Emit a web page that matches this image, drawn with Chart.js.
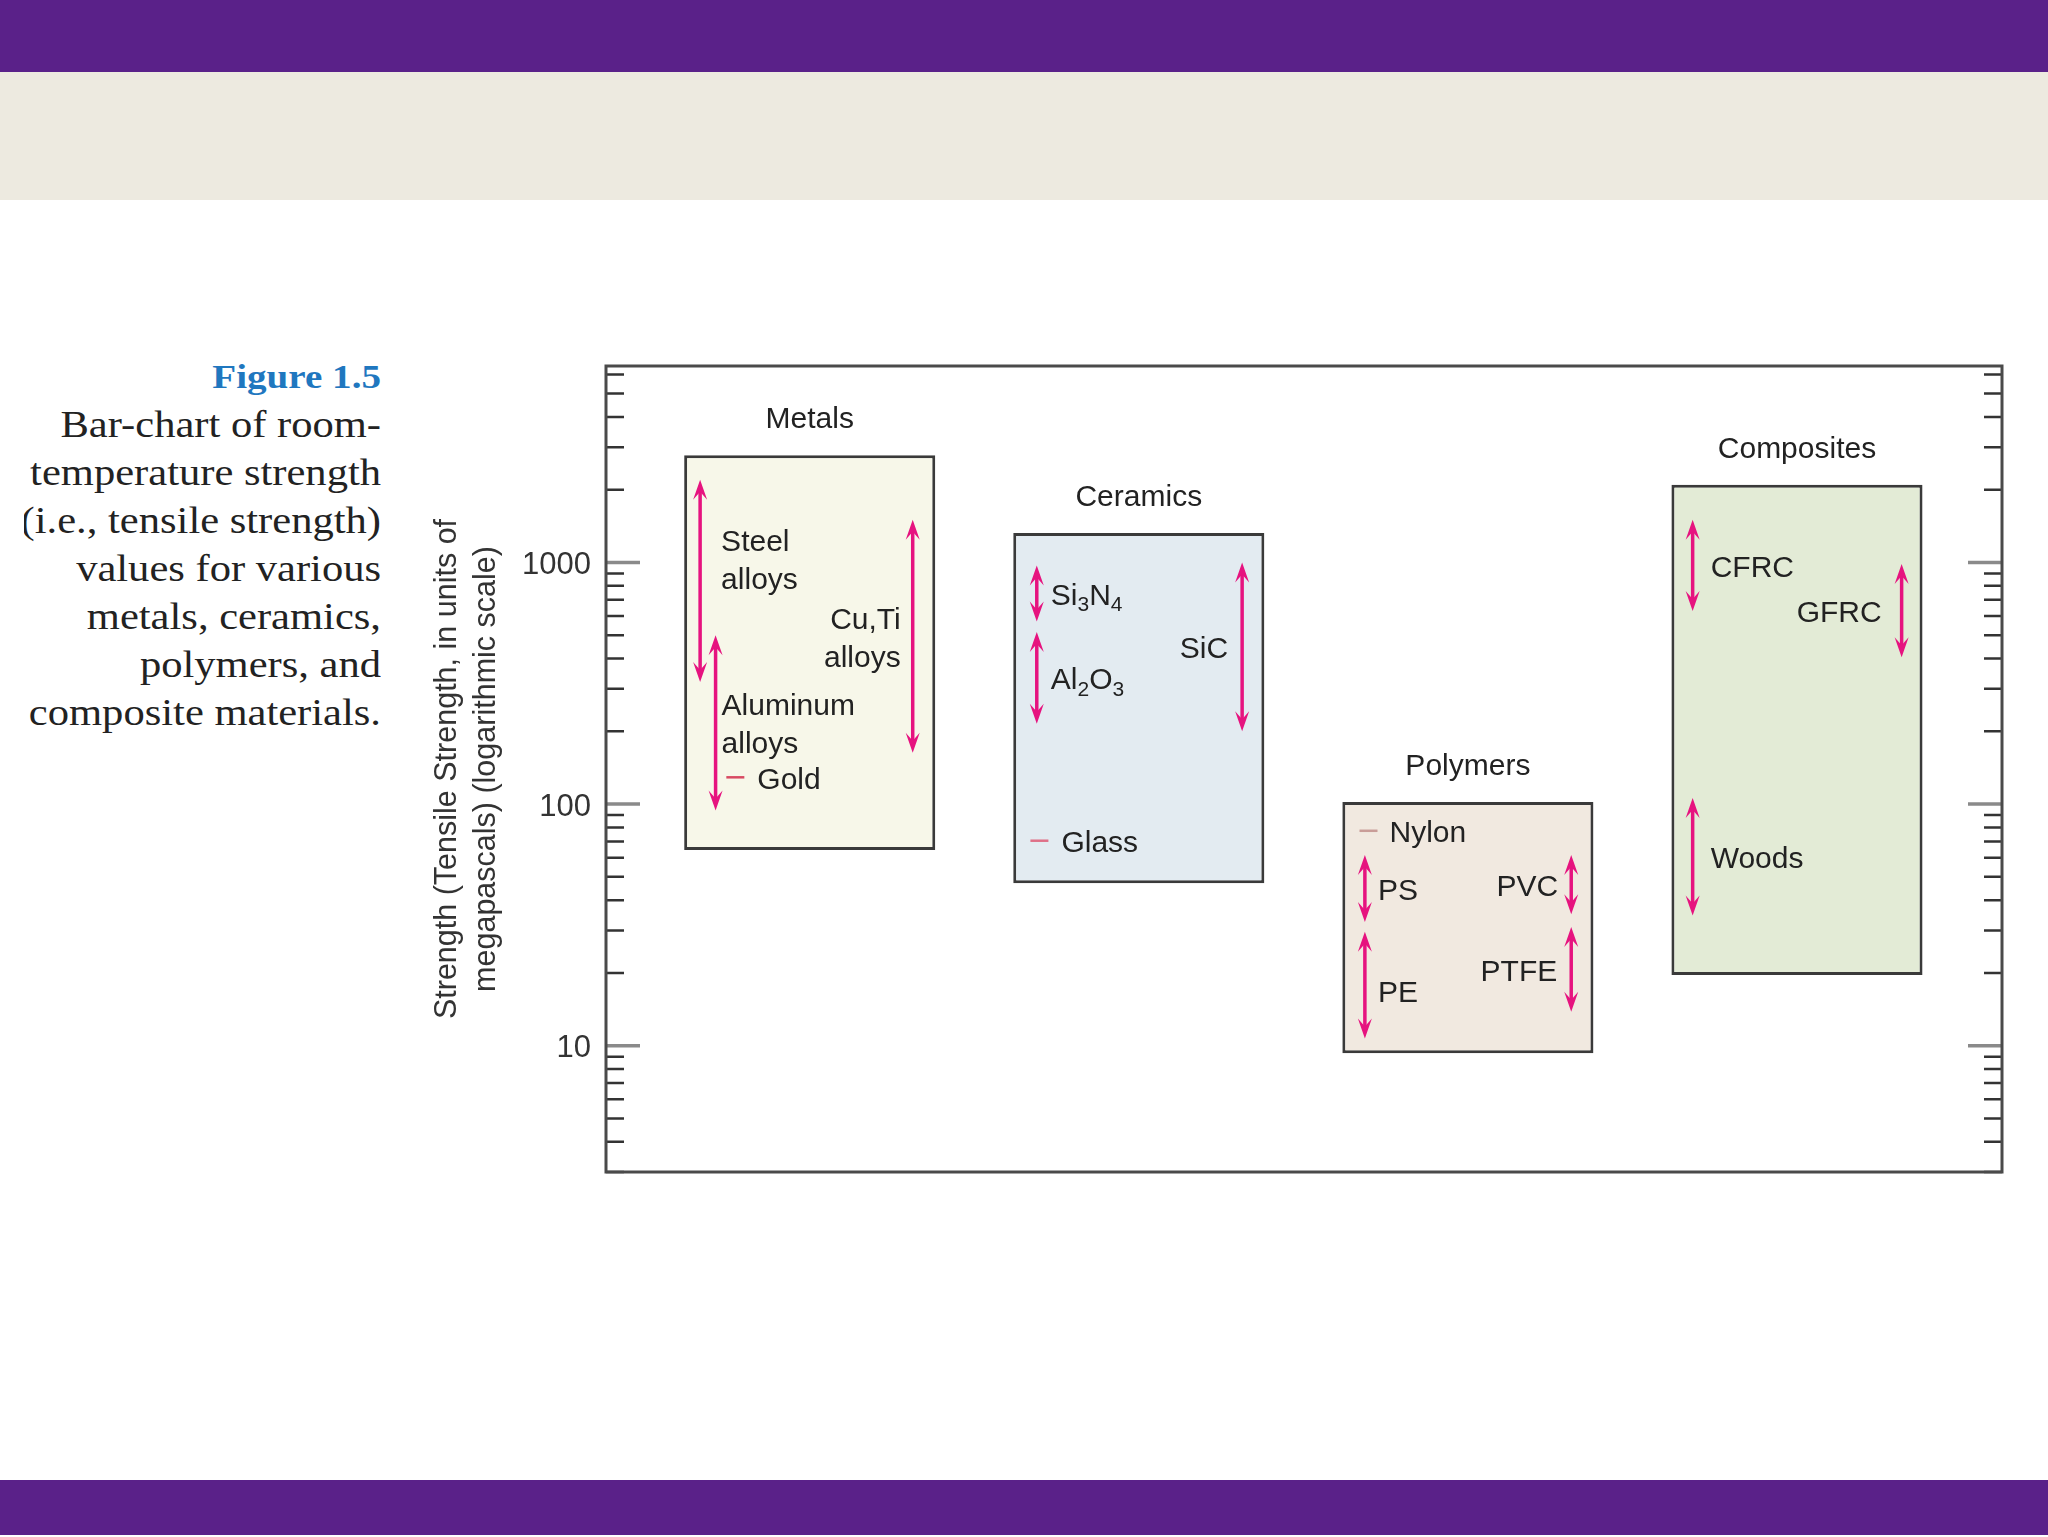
<!DOCTYPE html>
<html>
<head>
<meta charset="utf-8">
<script src="https://cdn.jsdelivr.net/npm/chart.js@4.4.1/dist/chart.umd.min.js"></script>
<style>
  html, body { margin: 0; padding: 0; background: #fff; }
  body { width: 2048px; height: 1537px; position: relative; overflow: hidden; }
  .band-top { position: absolute; left: 0; top: 0; width: 2048px; height: 72px; background: #5a2189; }
  .band-beige { position: absolute; left: 0; top: 72px; width: 2048px; height: 128px; background: #edeae0; }
  .band-bottom { position: absolute; left: 0; top: 1480px; width: 2048px; height: 55px; background: #5a2189; }
  .caption-wrap { position: absolute; left: 24px; top: 352px; width: 357px; height: 400px; overflow: hidden; }
  .caption { width: 357px; text-align: right; transform: scaleX(1.15); transform-origin: right top;
             font-family: "Liberation Serif", "Times New Roman", serif; font-size: 37px; line-height: 48px; color: #222; }
  .caption .fig { color: #1f77bf; font-weight: bold; font-size: 34px; }
  #chart { position: absolute; left: 400px; top: 300px; }
</style>
</head>
<body>
<div class="band-top"></div>
<div class="band-beige"></div>
<div class="band-bottom"></div>
<div class="caption-wrap">
  <div class="caption">
    <span class="fig">Figure 1.5</span><br>
    Bar-chart of room-<br>
    temperature strength<br>
    (i.e., tensile strength)<br>
    values for various<br>
    metals, ceramics,<br>
    polymers, and<br>
    composite materials.
  </div>
</div>
<canvas id="chart" width="1648" height="940"></canvas>
<script>
// material classes (the boxes)
const groups = ["Metals", "Ceramics", "Polymers", "Composites"];
const groupLow = [64.5, 47, 9.3, 19.6];
const groupHigh = [2780, 1325, 102, 2095];

// individual materials (the arrows / marks), strength in MPa
const materials = ["Steel\nalloys", "Aluminum\nalloys", "Cu,Ti\nalloys", "Gold",
  "Si_3N_4", "Al_2O_3", "SiC", "Glass",
  "Nylon", "PS", "PE", "PVC", "PTFE",
  "CFRC", "GFRC", "Woods"];
const materialGroup = [0, 0, 0, 0, 1, 1, 1, 1, 2, 2, 2, 2, 2, 3, 3, 3];
const strengthLow = [320, 94, 163, 129, 570, 215, 200, 70.5, 77.5, 32.5, 10.7, 35, 13.8, 630, 405, 34.6];
const strengthHigh = [2200, 500, 1500, 129, 970, 515, 1000, 70.5, 77.5, 61.5, 29.6, 61.5, 31, 1500, 985, 106];

// axis
const yMin = 3, yMax = 6500;
const majorTicks = [10, 100, 1000];

// where each mark sits inside its box and how its label is placed
const markOffset = [-0.333, -0.286, 0.313, -0.226, -0.31, -0.31, 0.314, -0.302,
  -0.302, -0.313, -0.313, 0.314, 0.314, -0.317, 0.318, -0.317];
const labelSide = ["right", "right", "left", "right", "right", "right", "left", "right",
  "right", "right", "right", "left", "left", "right", "left", "right"];
const labelGap = [21, 6, 12, 13, 14, 14, 14, 13, 12, 13, 13, 13, 14, 18, 20, 18];
const labelShift = [-22, 0, 0, 0, 0, 0, 0, 0, 0, 0, 6, 0, 0, 0, 0, 0];

const boxColors = ["#f7f7e9", "#e3ebf1", "#f1e9e0", "#e3ebd6"];
const dashColors = { Gold: "#d84a62", Glass: "#df7088", Nylon: "#c99d98" };
const arrowColor = "#e6137f";
const textColor = "#222";
const textFont = '30px "Liberation Sans", Arial, sans-serif';
const subFont = '21px "Liberation Sans", Arial, sans-serif';
const textDrop = 3; // middle baseline sits a bit high for this font

// text with simple subscripts: "Si_3N_4"
function richParts(text) {
  const parts = [];
  for (let i = 0; i < text.length; i++) {
    if (text[i] === "_") { parts.push({ t: text[i + 1], sub: true }); i++; }
    else if (parts.length && !parts[parts.length - 1].sub) parts[parts.length - 1].t += text[i];
    else parts.push({ t: text[i], sub: false });
  }
  return parts;
}
function drawRich(ctx, text, x, y, align) {
  const parts = richParts(text);
  let w = 0;
  parts.forEach(p => { ctx.font = p.sub ? subFont : textFont; p.w = ctx.measureText(p.t).width; w += p.w; });
  let cx = align === "right" ? x - w : x;
  ctx.textAlign = "left";
  ctx.textBaseline = "middle";
  parts.forEach(p => {
    ctx.font = p.sub ? subFont : textFont;
    ctx.fillText(p.t, cx, (p.sub ? y + 9 : y) + textDrop);
    cx += p.w;
  });
}

function arrowHead(ctx, x, tipY, dir) {
  // dir = 1: points up (head body below tip), -1: points down
  const len = 20, half = 7, notch = 12;
  ctx.beginPath();
  ctx.moveTo(x, tipY);
  ctx.lineTo(x - half, tipY + dir * len);
  ctx.lineTo(x, tipY + dir * notch);
  ctx.lineTo(x + half, tipY + dir * len);
  ctx.closePath();
  ctx.fill();
}

const marksPlugin = {
  id: "marks",
  afterDatasetsDraw(chart) {
    const { ctx, chartArea, scales } = chart;
    const xs = scales.x, ys = scales.y;
    ctx.save();

    // class titles above the boxes
    const meta = chart.getDatasetMeta(0);
    ctx.fillStyle = textColor;
    ctx.font = textFont;
    ctx.textAlign = "center";
    ctx.textBaseline = "middle";
    meta.data.forEach((bar, i) => {
      const top = Math.min(bar.y, bar.base);
      ctx.fillText(groups[i], bar.x, top - 38 + textDrop);
    });

    // arrows, single-value marks and their labels
    materials.forEach((name, i) => {
      const x = xs.getPixelForValue(materialGroup[i] + markOffset[i]);
      const yTop = ys.getPixelForValue(strengthHigh[i]);
      const yBot = ys.getPixelForValue(strengthLow[i]);
      let anchorX;
      if (strengthHigh[i] === strengthLow[i]) {
        ctx.strokeStyle = dashColors[name] || arrowColor;
        ctx.lineWidth = 2.5;
        ctx.beginPath();
        ctx.moveTo(x - 9, yTop);
        ctx.lineTo(x + 9, yTop);
        ctx.stroke();
        anchorX = labelSide[i] === "right" ? x + 9 + labelGap[i] : x - 9 - labelGap[i];
      } else {
        ctx.strokeStyle = arrowColor;
        ctx.fillStyle = arrowColor;
        ctx.lineWidth = 3.5;
        ctx.beginPath();
        ctx.moveTo(x, yTop + 10);
        ctx.lineTo(x, yBot - 10);
        ctx.stroke();
        arrowHead(ctx, x, yTop, 1);
        arrowHead(ctx, x, yBot, -1);
        anchorX = labelSide[i] === "right" ? x + labelGap[i] : x - labelGap[i];
      }
      const lines = name.split("\n");
      const lh = 38;
      const cy = (yTop + yBot) / 2 + labelShift[i];
      ctx.fillStyle = textColor;
      lines.forEach((ln, k) => {
        const ly = cy + (k - (lines.length - 1) / 2) * lh;
        drawRich(ctx, ln, anchorX, ly, labelSide[i] === "right" ? "left" : "right");
      });
    });

    // inward tick marks on both sides
    ys.ticks.forEach(t => {
      const py = ys.getPixelForValue(t.value);
      const major = majorTicks.includes(t.value);
      const len = major ? 34 : 18;
      ctx.strokeStyle = major ? "#8a8a8a" : "#333";
      ctx.lineWidth = major ? 3.5 : 2.5;
      ctx.beginPath();
      ctx.moveTo(chartArea.left, py);
      ctx.lineTo(chartArea.left + len, py);
      ctx.moveTo(chartArea.right, py);
      ctx.lineTo(chartArea.right - len, py);
      ctx.stroke();
    });

    // frame
    ctx.strokeStyle = "#4a4a4a";
    ctx.lineWidth = 3;
    ctx.strokeRect(chartArea.left, chartArea.top, chartArea.right - chartArea.left, chartArea.bottom - chartArea.top);
    ctx.restore();
  }
};

new Chart(document.getElementById("chart").getContext("2d"), {
  type: "bar",
  data: {
    datasets: [{
      label: "Strength range",
      data: groups.map((g, i) => ({ x: i, y: [groupLow[i], groupHigh[i]] })),
      backgroundColor: boxColors,
      borderColor: "#3a3a3a",
      borderWidth: 3,
      borderSkipped: false,
      categoryPercentage: 1,
      barPercentage: 0.763
    }]
  },
  options: {
    responsive: false,
    animation: false,
    devicePixelRatio: 1,
    layout: { padding: { left: 0, top: 66, right: 46, bottom: 68 } },
    plugins: { legend: { display: false }, tooltip: { enabled: false } },
    scales: {
      x: {
        type: "linear",
        min: -0.619,
        max: 3.623,
        offset: false,
        display: false,
        afterBuildTicks(scale) {
          scale.ticks = groups.map((g, i) => ({ value: i }));
        }
      },
      y: {
        type: "logarithmic",
        min: yMin,
        max: yMax,
        grid: { display: false },
        border: { display: false },
        afterBuildTicks(scale) {
          const ticks = [];
          for (let d = 1; d <= 1000; d *= 10) {
            for (let m = 1; m <= 9; m++) {
              const v = d * m;
              if (v >= scale.min && v <= scale.max) ticks.push({ value: v });
            }
          }
          scale.ticks = ticks;
        },
        afterFit(scale) { scale.width = 206; },
        ticks: {
          autoSkip: false,
          padding: 7,
          labelOffset: 3,
          color: "#333",
          font: { family: '"Liberation Sans", Arial, sans-serif', size: 31 },
          callback: value => majorTicks.includes(value) ? String(value) : ""
        },
        title: {
          display: true,
          text: ["Strength (Tensile Strength, in units of", "megapascals) (logarithmic scale)"],
          color: "#333",
          font: { family: '"Liberation Sans", Arial, sans-serif', size: 30.5, lineHeight: 1.25 },
          padding: { top: 29, bottom: 0 }
        }
      }
    }
  },
  plugins: [marksPlugin]
});
</script>
</body>
</html>
